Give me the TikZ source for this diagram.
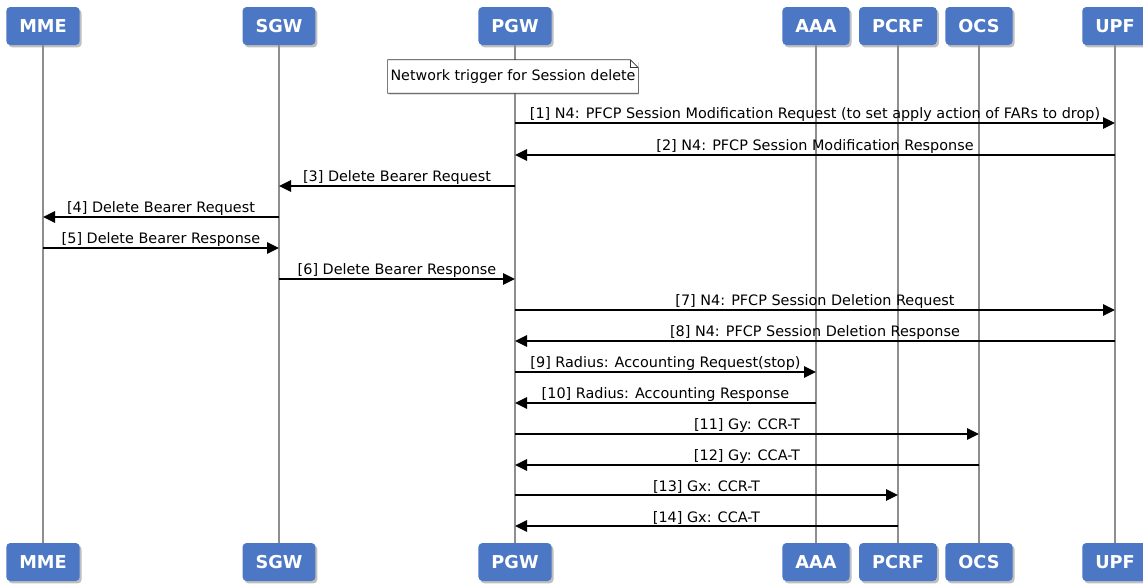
\documentclass[tikz,border=0pt]{standalone}
\usepackage{fontspec}
\setmainfont{DejaVu Sans}
\usetikzlibrary{arrows.meta, positioning, calc, shadows}
\definecolor{actorblue}{HTML}{4B77C4}
\definecolor{lifegray}{HTML}{8E8E8E}
\definecolor{notegray}{HTML}{333333}

\begin{document}
\begin{tikzpicture}[x=0.75pt, y=-0.75pt,
  actor/.style={fill=actorblue, text=white, rounded corners=3pt,
    font=\fontsize{13.3}{16}\selectfont\bfseries,
    minimum height=28.5pt, inner xsep=9.75pt,
    drop shadow={shadow xshift=1.5pt, shadow yshift=-1.8pt, opacity=0.5}},
  lifeline/.style={draw=lifegray, line width=0.8pt},
  msg/.style={-{Triangle[length=9pt, width=8.5pt]}, line width=1.4pt},
  lbl/.style={above, inner sep=0.6pt, font=\fontsize{10.8}{13}\selectfont},
  notebox/.style={fill=white, minimum width=187.5pt, minimum height=24.75pt,
    inner sep=2pt, font=\fontsize{10.7}{13}\selectfont,
    drop shadow={shadow xshift=1pt, shadow yshift=-1.2pt, opacity=0.25}},
  notebord/.style={draw=notegray, line width=0.5pt}]

% Background
\useasboundingbox (0,0) rectangle (1143,583);
\fill[white] (0,0) rectangle (1143,583);

% --- Actors (top) ---
\node[actor] (mme)  at (43,26)   {MME};
\node[actor] (sgw)  at (279,26)  {SGW};
\node[actor] (pgw)  at (515,26)  {PGW};
\node[actor] (aaa)  at (816,26)  {AAA};
\node[actor] (pcrf) at (898,26)  {PCRF};
\node[actor] (ocs)  at (979,26)  {OCS};
\node[actor] (upf)  at (1115,26) {UPF};

% --- Actors (bottom) ---
\node[actor] (mmeB)  at (43,562)   {MME};
\node[actor] (sgwB)  at (279,562)  {SGW};
\node[actor] (pgwB)  at (515,562)  {PGW};
\node[actor] (aaaB)  at (816,562)  {AAA};
\node[actor] (pcrfB) at (898,562)  {PCRF};
\node[actor] (ocsB)  at (979,562)  {OCS};
\node[actor] (upfB)  at (1115,562) {UPF};

% Lifelines
\draw[lifeline] (mme.south)  -- (mmeB.north);
\draw[lifeline] (sgw.south)  -- (sgwB.north);
\draw[lifeline] (pgw.south)  -- (pgwB.north);
\draw[lifeline] (aaa.south)  -- (aaaB.north);
\draw[lifeline] (pcrf.south) -- (pcrfB.north);
\draw[lifeline] (ocs.south)  -- (ocsB.north);
\draw[lifeline] (upf.south)  -- (upfB.north);

% Note on PGW
\node[notebox] (note) at (513,76.5) {Network trigger for Session delete};
\draw[notebord] (note.south west) -- (note.north west)
  -- ($(note.north east)+(-8,0)$) -- ($(note.north east)+(0,8)$)
  -- (note.south east) -- cycle;
\draw[notebord] ($(note.north east)+(-8,0)$) -- ($(note.north east)+(-8,8)$)
  -- ($(note.north east)+(0,8)$);

% --- N4 modification ---
\draw[msg] (pgw |- 0,123) -- node[lbl]
  {[1] N4: PFCP Session Modification Request (to set apply action of FARs to drop)} (upf |- 0,123);
\draw[msg] (upf |- 0,155) -- node[lbl] {[2] N4: PFCP Session Modification Response} (pgw |- 0,155);

% --- Delete bearer ---
\draw[msg] (pgw |- 0,186) -- node[lbl] {[3] Delete Bearer Request} (sgw |- 0,186);
\draw[msg] (sgw |- 0,217) -- node[lbl] {[4] Delete Bearer Request} (mme |- 0,217);
\draw[msg] (mme |- 0,248) -- node[lbl] {[5] Delete Bearer Response} (sgw |- 0,248);
\draw[msg] (sgw |- 0,279) -- node[lbl] {[6] Delete Bearer Response} (pgw |- 0,279);

% --- N4 deletion ---
\draw[msg] (pgw |- 0,310) -- node[lbl] {[7] N4: PFCP Session Deletion Request} (upf |- 0,310);
\draw[msg] (upf |- 0,341) -- node[lbl] {[8] N4: PFCP Session Deletion Response} (pgw |- 0,341);

% --- Radius ---
\draw[msg] (pgw |- 0,372) -- node[lbl] {[9] Radius: Accounting Request(stop)} (aaa |- 0,372);
\draw[msg] (aaa |- 0,403) -- node[lbl] {[10] Radius: Accounting Response} (pgw |- 0,403);

% --- Gy ---
\draw[msg] (pgw |- 0,434) -- node[lbl] {[11] Gy: CCR-T} (ocs |- 0,434);
\draw[msg] (ocs |- 0,465) -- node[lbl] {[12] Gy: CCA-T} (pgw |- 0,465);

% --- Gx ---
\draw[msg] (pgw |- 0,495) -- node[lbl] {[13] Gx: CCR-T} (pcrf |- 0,495);
\draw[msg] (pcrf |- 0,526) -- node[lbl] {[14] Gx: CCA-T} (pgw |- 0,526);

\end{tikzpicture}
\end{document}
